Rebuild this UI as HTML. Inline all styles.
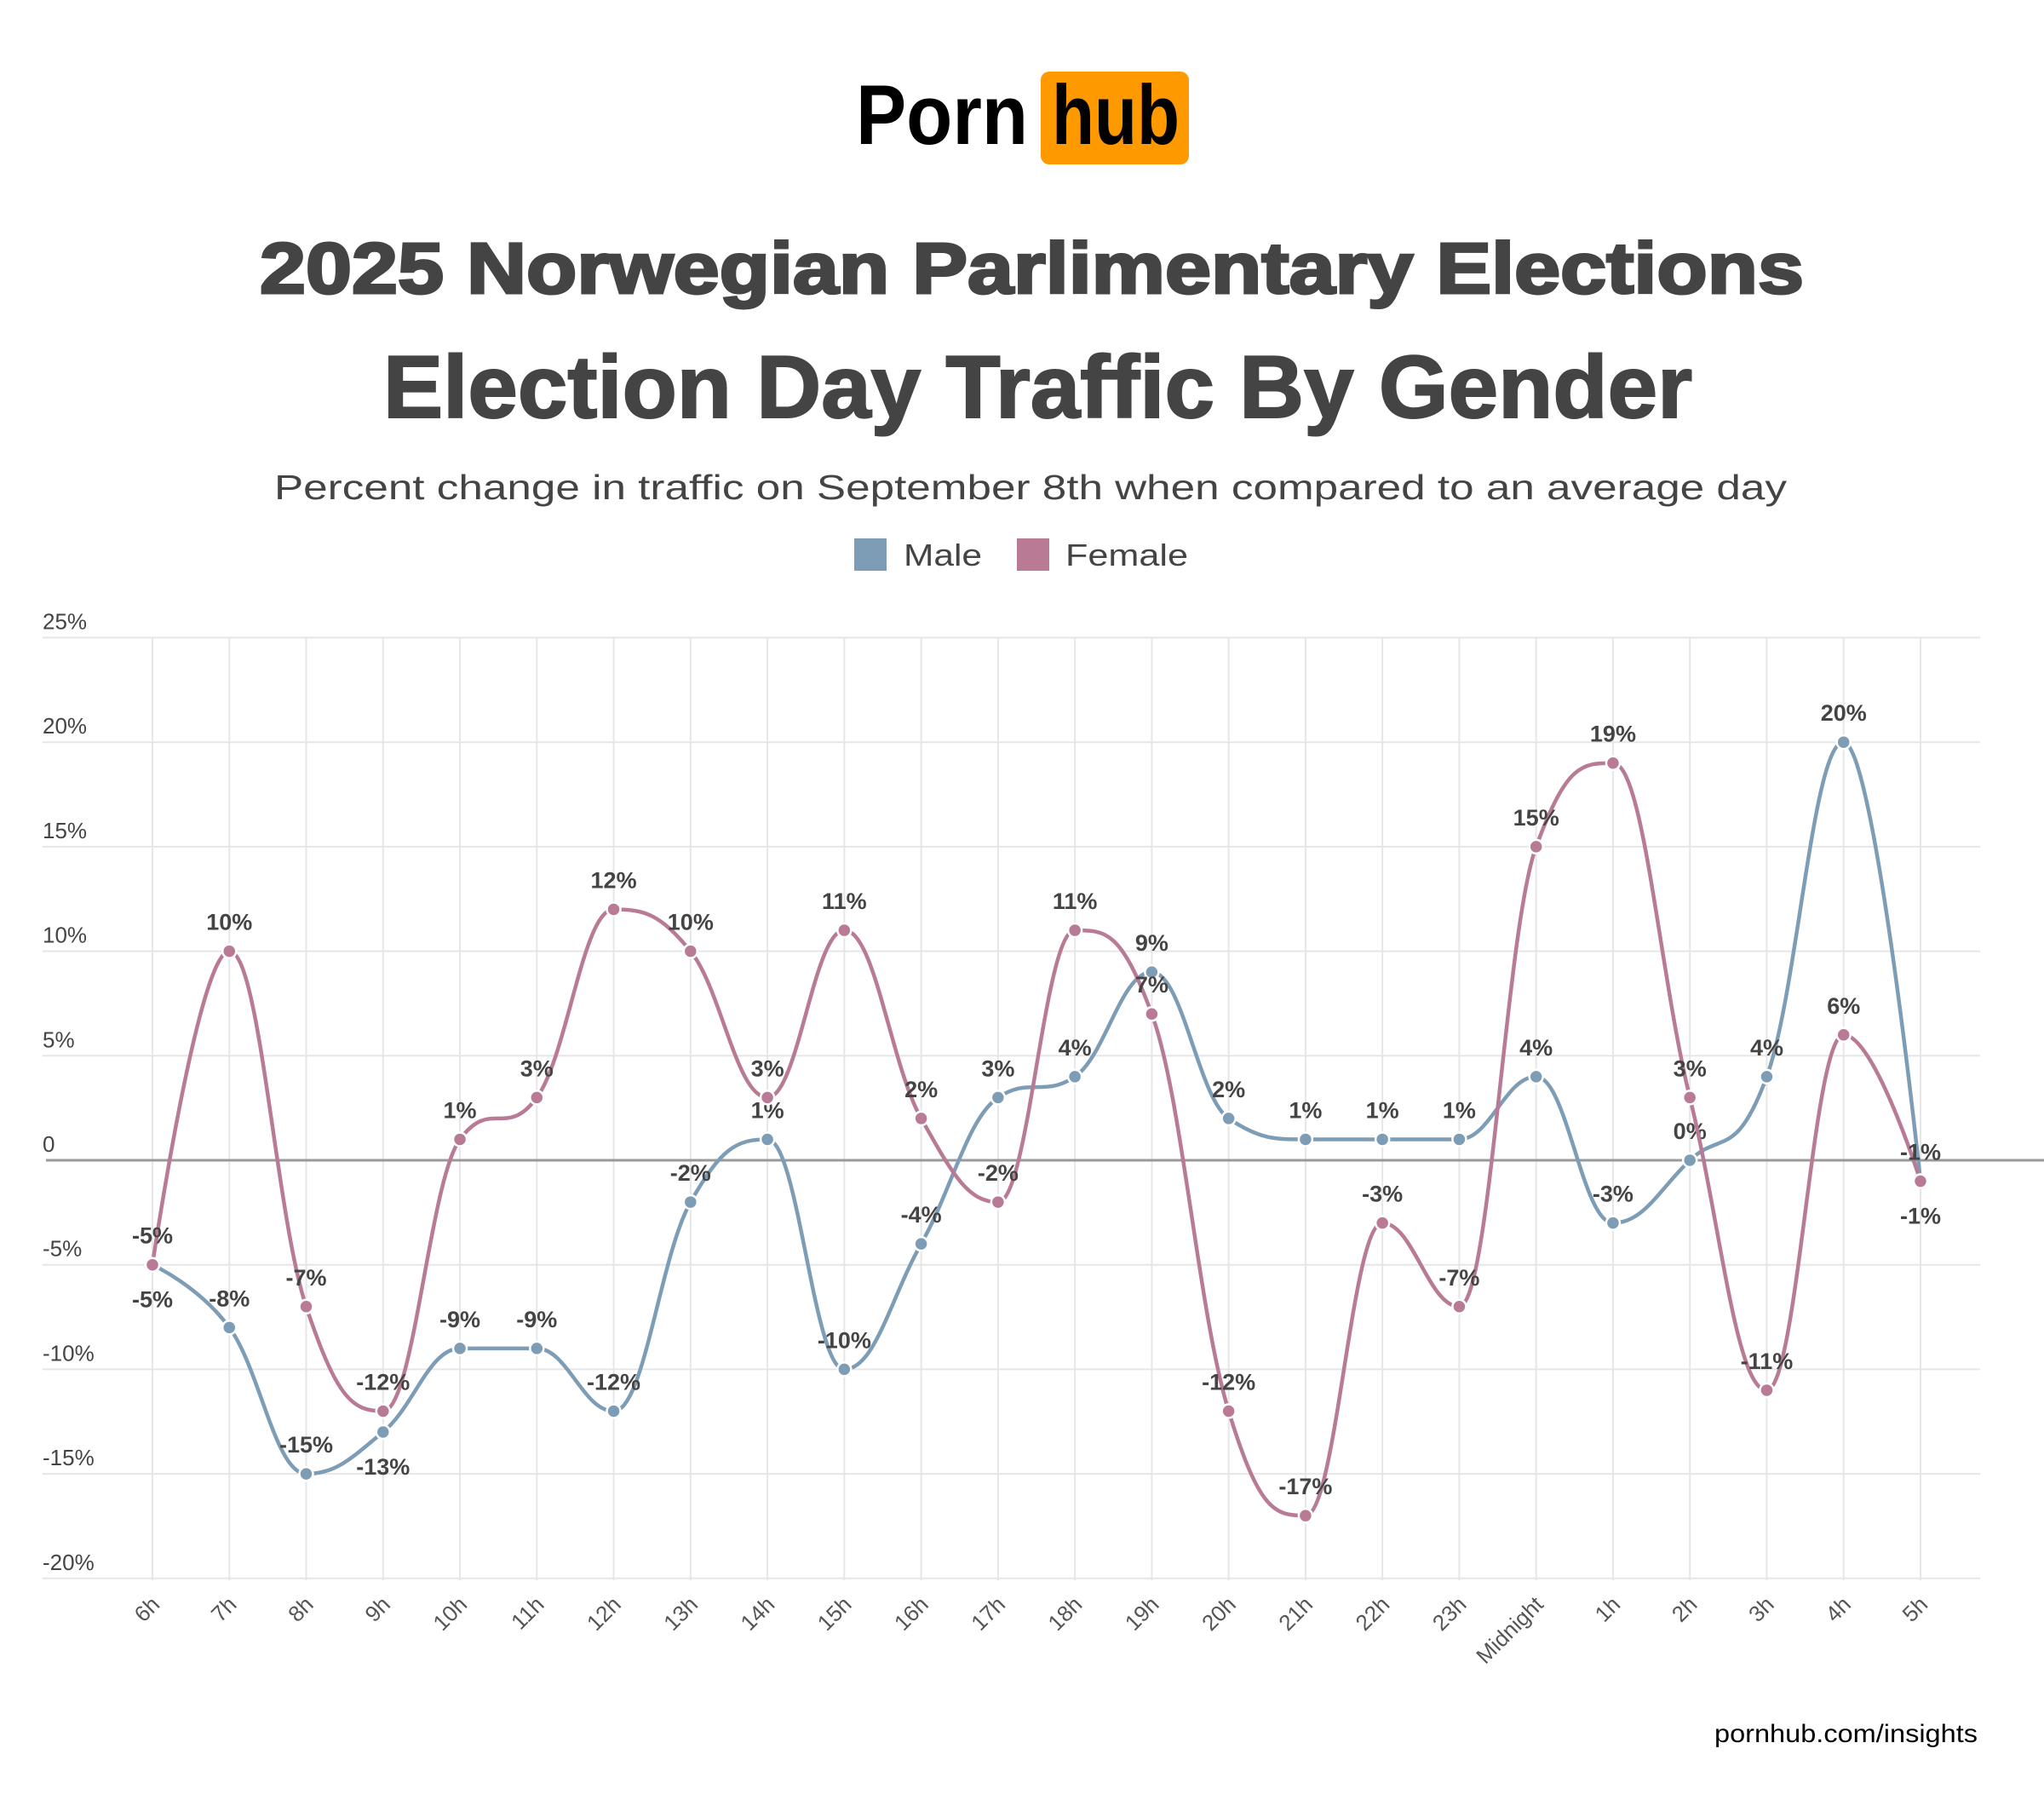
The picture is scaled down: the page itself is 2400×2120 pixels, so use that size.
<!DOCTYPE html>
<html><head><meta charset="utf-8"><style>
html,body{margin:0;padding:0;background:#fff;width:2400px;height:2120px;overflow:hidden}
svg{display:block}
text{font-family:"Liberation Sans",sans-serif}
</style></head><body>
<svg id="s" width="2400" height="2120" viewBox="0 0 2400 2120" xmlns="http://www.w3.org/2000/svg">
<rect x="1222" y="84" width="174" height="109" rx="10" fill="#ff9900"/>
<text x="1005" y="169" font-size="99" font-weight="bold" fill="#000" textLength="202" lengthAdjust="spacingAndGlyphs">Porn</text>
<text x="1235" y="169" font-size="99" font-weight="bold" fill="#000" textLength="150" lengthAdjust="spacingAndGlyphs">hub</text>
<text x="305" y="344" font-size="84" font-weight="bold" fill="#444" stroke="#444" stroke-width="3" textLength="1813" lengthAdjust="spacingAndGlyphs">2025 Norwegian Parlimentary Elections</text>
<text x="450" y="490" font-size="104" font-weight="bold" fill="#444" stroke="#444" stroke-width="2" textLength="1537" lengthAdjust="spacingAndGlyphs">Election Day Traffic By Gender</text>
<text x="322" y="586" font-size="41" fill="#444" textLength="1776" lengthAdjust="spacingAndGlyphs">Percent change in traffic on September 8th when compared to an average day</text>
<rect x="1003" y="632" width="38" height="38" fill="#7d9cb5"/>
<text x="1061" y="664" font-size="36" fill="#444" textLength="92" lengthAdjust="spacingAndGlyphs">Male</text>
<rect x="1194" y="632" width="38" height="38" fill="#b87a94"/>
<text x="1251" y="664" font-size="36" fill="#444" textLength="144" lengthAdjust="spacingAndGlyphs">Female</text>
<text x="2013" y="2045" font-size="30" fill="#000" textLength="309" lengthAdjust="spacingAndGlyphs">pornhub.com/insights</text>
<g id="g"></g>
</svg>
<script>
var NS="http://www.w3.org/2000/svg",g=document.getElementById("g");
function el(t,a,txt){var e=document.createElementNS(NS,t);for(var k in a)e.setAttribute(k,a[k]);if(txt!=null)e.textContent=txt;g.appendChild(e);return e;}
function Y(v){return 1362-v*24.54;}
function X(i){return 179+i*90.26;}
var cats=["6h","7h","8h","9h","10h","11h","12h","13h","14h","15h","16h","17h","18h","19h","20h","21h","22h","23h","Midnight","1h","2h","3h","4h","5h"];
var male=[-5,-8,-15,-13,-9,-9,-12,-2,1,-10,-4,3,4,9,2,1,1,1,4,-3,0,4,20,-1];
var fem=[-5,10,-7,-12,1,3,12,10,3,11,2,-2,11,7,-12,-17,-3,-7,15,19,3,-11,6,-1];
for(var i=0;i<24;i++)el("line",{x1:X(i),x2:X(i),y1:748,y2:1855,stroke:"#e6e6e6","stroke-width":2});
for(var v=25;v>=-20;v-=5){
 if(v!==0)el("line",{x1:50,x2:2325,y1:Y(v),y2:Y(v),stroke:"#e6e6e6","stroke-width":2});
 el("text",{x:50,y:Y(v)-10,"font-size":26,fill:"#444"},v===0?"0":v+"%");
}
el("line",{x1:54,x2:2400,y1:Y(0),y2:Y(0),stroke:"#999","stroke-width":3});
for(var i=0;i<24;i++){
 var x=X(i)+10,y=1885;
 el("text",{x:x,y:y,"font-size":26,fill:"#555","text-anchor":"end",transform:"rotate(-45 "+x+" "+y+")"},cats[i]);
}
function path(d){
 var P=d.map(function(v,i){return[X(i),Y(v)];}),s="M"+P[0][0]+","+P[0][1];
 var L=[],R=[];
 for(var i=0;i<P.length;i++){
  var p=P[i];
  if(i===0||i===P.length-1){L[i]=[p[0],p[1]];R[i]=[p[0],p[1]];continue;}
  var a=P[i-1],b=P[i+1];
  var lx=(1.5*p[0]+a[0])/2.5,ly=(1.5*p[1]+a[1])/2.5,rx=(1.5*p[0]+b[0])/2.5,ry=(1.5*p[1]+b[1])/2.5;
  var c=((ry-ly)*(rx-p[0]))/(rx-lx)+p[1]-ry;ly+=c;ry+=c;
  if(ly>a[1]&&ly>p[1]){ly=Math.max(a[1],p[1]);ry=2*p[1]-ly;}else if(ly<a[1]&&ly<p[1]){ly=Math.min(a[1],p[1]);ry=2*p[1]-ly;}
  if(ry>b[1]&&ry>p[1]){ry=Math.max(b[1],p[1]);ly=2*p[1]-ry;}else if(ry<b[1]&&ry<p[1]){ry=Math.min(b[1],p[1]);ly=2*p[1]-ry;}
  L[i]=[lx,ly];R[i]=[rx,ry];
 }
 for(var i=1;i<P.length;i++)s+=" C"+R[i-1][0]+","+R[i-1][1]+" "+L[i][0]+","+L[i][1]+" "+P[i][0]+","+P[i][1];
 return s;
}
function series(d,col,below){
 el("path",{d:path(d),fill:"none",stroke:col,"stroke-width":4.5});
 for(var i=0;i<d.length;i++){
  el("circle",{cx:X(i),cy:Y(d[i]),r:8,fill:col,stroke:"#fff","stroke-width":2.5});
 }
 for(var i=0;i<d.length;i++){
  var b=below.indexOf(i)>=0;
  el("text",{x:X(i),y:b?Y(d[i])+50:Y(d[i])-25,"font-size":27,"font-weight":"bold",fill:"#444","text-anchor":"middle"},d[i]+"%");
 }
}
series(male,"#7d9cb5",[0,3,23]);
series(fem,"#b87a94",[]);
</script>
</body></html>
